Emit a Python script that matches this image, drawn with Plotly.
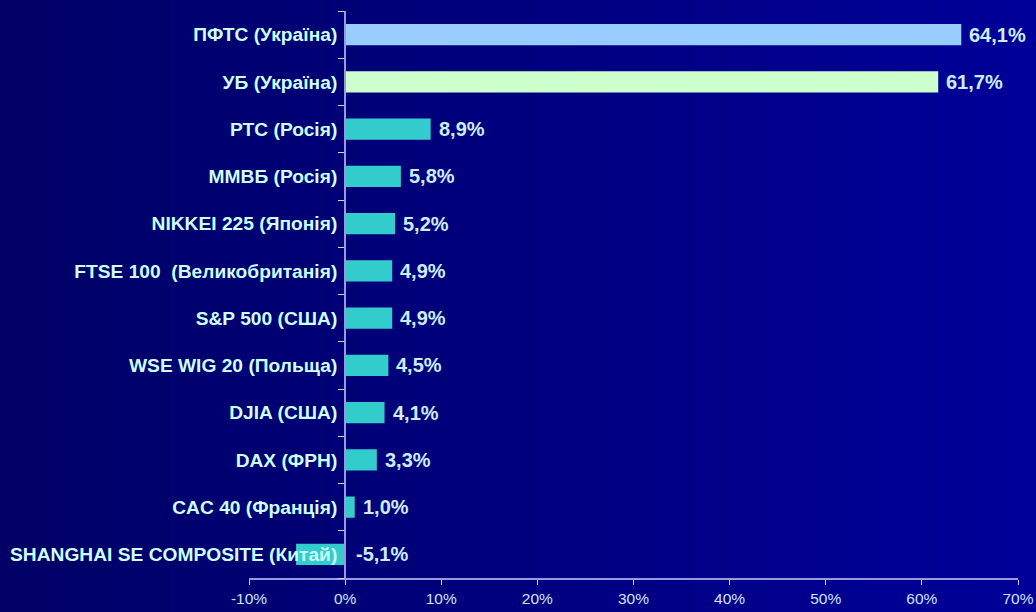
import plotly.graph_objects as go

# data (top to bottom as in the picture)
indices = [
    "ПФТС (Україна)",
    "УБ (Україна)",
    "РТС (Росія)",
    "ММВБ (Росія)",
    "NIKKEI 225 (Японія)",
    "FTSE 100  (Великобританія)",
    "S&P 500 (США)",
    "WSE WIG 20 (Польща)",
    "DJIA (США)",
    "DAX (ФРН)",
    "CAC 40 (Франція)",
    "SHANGHAI SE COMPOSITE (Китай)",
]
change_pct = [64.1, 61.7, 8.9, 5.8, 5.2, 4.9, 4.9, 4.5, 4.1, 3.3, 1.0, -5.1]
bar_colors = ["#99CCFF", "#CCFFCC"] + ["#33CCCC"] * 10
x_ticks = [-10, 0, 10, 20, 30, 40, 50, 60, 70]
x_ticktext = [f"{t}%" for t in x_ticks]

font = "Liberation Sans, Arial"

fig = go.Figure()
fig.add_trace(go.Bar(
    y=indices, x=change_pct, orientation="h",
    marker=dict(color=bar_colors, line=dict(width=0)),
    hoverinfo="skip",
))

# value labels, always right of zero / bar end
for name, v in zip(indices, change_pct):
    fig.add_annotation(
        x=max(v, 0), y=name, xanchor="left", yanchor="middle",
        xshift=6 if v >= 0 else 9, showarrow=False,
        text=f"{v:.1f}".replace(".", ",") + "%",
        font=dict(family=font, size=20, color="#CCECFF", weight="bold"),
    )

# horizontal background gradient
n = 60
for i in range(n):
    t = i / (n - 1)
    c = f"rgb(0,0,{int(102 + 51 * t)})"
    fig.add_shape(type="rect", xref="paper", yref="paper",
                  x0=-0.33 + i * 1.36 / n, x1=-0.33 + (i + 1) * 1.36 / n + 0.002,
                  y0=-0.07, y1=1.03, fillcolor=c, line=dict(width=0), layer="below")

fig.update_layout(
    width=1036, height=612,
    margin=dict(l=249, r=18, t=11, b=34),
    paper_bgcolor="#000080", plot_bgcolor="rgba(0,0,0,0)",
    showlegend=False, bargap=0.55,
    font=dict(family=font, color="#CCECFF"),
    xaxis=dict(
        range=[-10, 70], tickvals=x_ticks, ticktext=x_ticktext,
        showgrid=False, zeroline=False, automargin=False,
        showline=True, linecolor="#9999DD", linewidth=2,
        ticks="outside", ticklen=5, tickcolor="#CCCCFF",
        tickfont=dict(size=15.5, color="#CCE5FF"),
    ),
    yaxis=dict(
        categoryorder="array", categoryarray=indices[::-1],
        anchor="free", position=10 / 80, automargin=False,
        showgrid=False, zeroline=False,
        showline=True, linecolor="#9999DD", linewidth=2,
        ticks="outside", ticklen=6, tickcolor="#CCCCFF",
        tickson="boundaries",
        tickfont=dict(size=19.2, color="#CCFFFF", weight="bold"),
        ticklabelstandoff=3,
    ),
)

fig.write_html("out.html", config={"displayModeBar": False},
               post_script="document.body.style.margin='0';")
